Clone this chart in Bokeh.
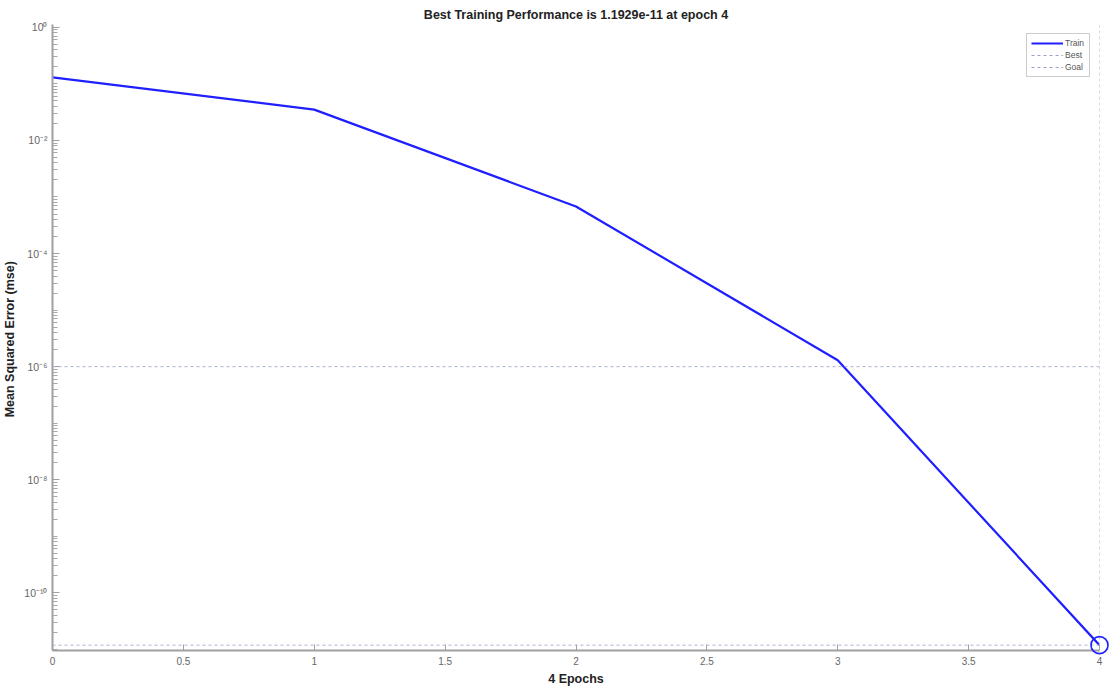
from bokeh.plotting import figure
from bokeh.models import Range1d, FixedTicker, Span, Legend, LegendItem
from bokeh.embed import file_html
from bokeh.resources import INLINE

# Data
epochs = [0, 1, 2, 3, 4]
train_mse = [0.13, 0.035, 6.8e-4, 1.3e-6, 1.1929e-11]
best_epoch = 4
best_perf = 1.1929e-11
goal = 1e-6
x_ticks = [0, 0.5, 1, 1.5, 2, 2.5, 3, 3.5, 4]
x_tick_labels = ["0", "0.5", "1", "1.5", "2", "2.5", "3", "3.5", "4"]
y_major_exps = [0, -2, -4, -6, -8, -10]
y_major_labels = ["10⁰", "10⁻²", "10⁻⁴", "10⁻⁶", "10⁻⁸", "10⁻¹⁰"]

FONT = "Liberation Sans"
AXIS_GRAY = "#a0a0a0"
LABEL_GRAY = "#666666"
DOT_COLOR = "#aab2d2"
BLUE = "#1f1fff"

Y_LO, Y_HI = 9.6e-12, 1.12

p = figure(width=1110, height=688, y_axis_type="log",
           x_range=Range1d(0, 4), y_range=Range1d(Y_LO, Y_HI),
           output_backend="svg", toolbar_location=None,
           min_border_left=52, min_border_right=11,
           min_border_top=24, min_border_bottom=37)

p.title.text = "Best Training Performance is 1.1929e-11 at epoch 4"
p.title.align = "center"
p.title.text_font = FONT
p.title.text_font_size = "12.5px"
p.title.text_font_style = "bold"
p.title.text_color = "#222222"
p.title.standoff = 5
p.title.offset = 0

p.outline_line_color = None
p.xgrid.visible = False
p.ygrid.visible = False

# Reference lines
p.add_layout(Span(location=goal, dimension="width", line_color=DOT_COLOR,
                  line_dash="3 3", line_width=1))
p.add_layout(Span(location=best_perf, dimension="width", line_color=DOT_COLOR,
                  line_dash="3 3", line_width=1))
p.add_layout(Span(location=best_epoch, dimension="height", line_color=DOT_COLOR,
                  line_dash="3 3", line_width=1))

train = p.line(epochs, train_mse, line_color=BLUE, line_width=2.2)
p.scatter([best_epoch], [best_perf], size=17, marker="circle",
          fill_color=None, line_color=BLUE, line_width=1.6, level="overlay")

best_leg = p.line([best_epoch], [best_perf], line_color="#9aa2c4",
                  line_dash="3 3", line_width=1)
goal_leg = p.line([best_epoch], [goal], line_color="#9aa2c4",
                  line_dash="3 3", line_width=1)

legend = Legend(items=[LegendItem(label="Train", renderers=[train]),
                       LegendItem(label="Best", renderers=[best_leg]),
                       LegendItem(label="Goal", renderers=[goal_leg])],
                location="top_right")
legend.label_text_font = FONT
legend.label_text_font_size = "8.5px"
legend.label_text_color = "#555555"
legend.glyph_width = 32
legend.glyph_height = 10
legend.label_height = 10
legend.spacing = 2
legend.padding = 4
legend.margin = 9
legend.label_standoff = 2
legend.border_line_color = "#999999"
legend.background_fill_alpha = 1
p.add_layout(legend)

# X axis
xa = p.xaxis[0]
xa.ticker = FixedTicker(ticks=x_ticks)
xa.major_label_overrides = {t: l for t, l in zip(x_ticks, x_tick_labels)}
xa.axis_label = "4 Epochs"
xa.axis_label_text_font = FONT
xa.axis_label_text_font_size = "12.5px"
xa.axis_label_text_font_style = "bold"
xa.axis_label_text_color = "#222222"
xa.axis_label_standoff = 4
xa.major_label_text_font = FONT
xa.major_label_text_font_size = "10px"
xa.major_label_text_color = LABEL_GRAY
xa.major_label_standoff = 6
xa.axis_line_color = AXIS_GRAY
xa.axis_line_width = 2
xa.major_tick_line_color = AXIS_GRAY
xa.major_tick_in = 6
xa.major_tick_out = 0
xa.minor_tick_line_color = None

# Y axis
y_major = [10.0 ** e for e in y_major_exps]
y_minor = []
for e in range(-12, 1):
    for k in range(1, 10):
        v = k * 10.0 ** e
        if Y_LO <= v <= Y_HI and not any(abs(v - m) < 1e-6 * m for m in y_major):
            y_minor.append(v)
ya = p.yaxis[0]
ya.ticker = FixedTicker(ticks=y_major, minor_ticks=y_minor)
ya.major_label_overrides = {t: l for t, l in zip(y_major, y_major_labels)}
ya.axis_label = "Mean Squared Error  (mse)"
ya.axis_label_text_font = FONT
ya.axis_label_text_font_size = "12.5px"
ya.axis_label_text_font_style = "bold"
ya.axis_label_text_color = "#222222"
ya.axis_label_standoff = 4
ya.major_label_text_font = FONT
ya.major_label_text_font_size = "10.5px"
ya.major_label_text_color = LABEL_GRAY
ya.major_label_standoff = 5
ya.axis_line_color = AXIS_GRAY
ya.axis_line_width = 2
ya.major_tick_line_color = AXIS_GRAY
ya.major_tick_in = 7
ya.major_tick_out = 0
ya.minor_tick_line_color = "#a8a8a8"
ya.minor_tick_line_width = 1
ya.minor_tick_in = 5
ya.minor_tick_out = 0

open("out.html", "w").write(file_html(p, INLINE))
